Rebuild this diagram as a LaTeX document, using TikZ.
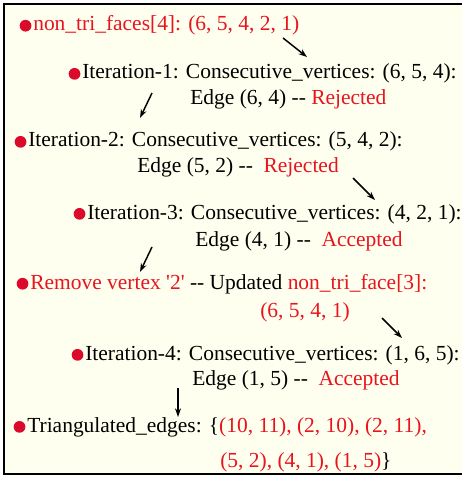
\documentclass[tikz,border=0pt]{standalone}
\usepackage{fontspec}
\setmainfont{Liberation Serif}
\usepackage{tikz}
\usetikzlibrary{arrows.meta}
\definecolor{listred}{HTML}{E8141E}
\definecolor{dotred}{HTML}{DC0A2A}
\definecolor{listbg}{HTML}{FFFFF0}

\begin{document}
\begin{tikzpicture}[
  x=0.75pt,y=-0.75pt,
  line/.style={anchor=base west,inner sep=0pt,font=\fontsize{16.1}{19.4}\selectfont},
  arrow/.style={-{Stealth[length=6.5pt,width=4.5pt]},line width=1.1pt,draw=black},
  dot/.style={fill=dotred}
]
\useasboundingbox (0,0) rectangle (461,477);
\draw[line width=1.5pt,fill=listbg] (4,4) rectangle (490,474);
% list lines
\node[line,text=listred] (n0) at (33,31) {non\_tri\_faces[4]: (6, 5, 4, 2, 1)};
\node[line] (it1) at (82,79) {Iteration-1: Consecutive\_vertices: (6, 5, 4):};
\node[line] (e1) at (190,105) {Edge (6, 4) {-}{-} \textcolor{listred}{Rejected}};
\node[line] (it2) at (28,147) {Iteration-2: Consecutive\_vertices: (5, 4, 2):};
\node[line] (e2) at (137,172) {Edge (5, 2) {-}{-}\ \ \textcolor{listred}{Rejected}};
\node[line] (it3) at (87,219) {Iteration-3: Consecutive\_vertices: (4, 2, 1):};
\node[line] (e3) at (195,246) {Edge (4, 1) {-}{-}\ \ \textcolor{listred}{Accepted}};
\node[line] (rm) at (30,289) {\textcolor{listred}{Remove vertex \textquotesingle2\textquotesingle} {-}{-} Updated \textcolor{listred}{non\_tri\_face[3]:}};
\node[line,text=listred] (rm2) at (260,317) {(6, 5, 4, 1)};
\node[line] (it4) at (85,360) {Iteration-4: Consecutive\_vertices: (1, 6, 5):};
\node[line] (e4) at (192,385) {Edge (1, 5) {-}{-}\ \ \textcolor{listred}{Accepted}};
\node[line] (tr) at (27,432) {Triangulated\_edges: \{\textcolor{listred}{(10, 11), (2, 10), (2, 11),}};
\node[line] (tr2) at (220,467) {\textcolor{listred}{(5, 2), (4, 1), (1, 5)}\}};
% bullets
\foreach \n in {n0,it1,it2,it3,rm,it4,tr}
  \fill[dot] ([xshift=-5.6pt]\n.west) circle [radius=4.4pt];
% arrows between steps
\coordinate (s1) at (283,38);  \coordinate (t1) at (307,57);
\coordinate (s2) at (152,93);  \coordinate (t2) at (140,118);
\coordinate (s3) at (353,178); \coordinate (t3) at (375,200);
\coordinate (s4) at (152,247); \coordinate (t4) at (140,272);
\coordinate (s5) at (382,318); \coordinate (t5) at (402,338);
\coordinate (s6) at (178,388); \coordinate (t6) at (178,417);
\foreach \i in {1,...,6}
  \draw[arrow] (s\i) -- (t\i);
\end{tikzpicture}
\end{document}
